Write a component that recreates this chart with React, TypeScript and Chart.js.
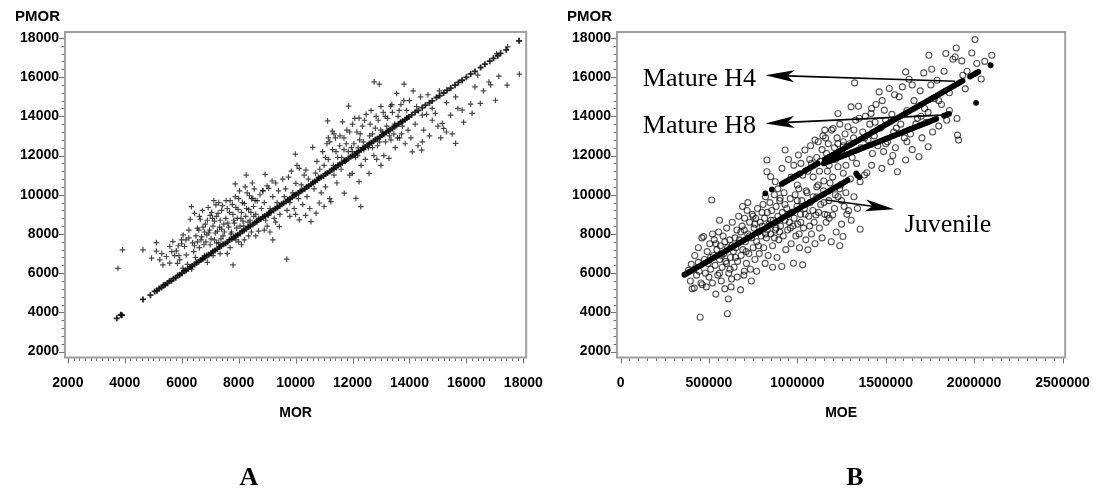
import React, { useEffect, useRef } from "react";
import { Chart, registerables } from "chart.js";
Chart.register(...registerables);

// ---------------- Panel A : PMOR vs MOR ----------------
const A_X_TICKS = [2000, 4000, 6000, 8000, 10000, 12000, 14000, 16000, 18000];
const Y_TICKS = [2000, 4000, 6000, 8000, 10000, 12000, 14000, 16000, 18000];
const B_X_TICKS = [0, 500000, 1000000, 1500000, 2000000, 2500000];

// predicted PMOR (on the diagonal)
const A_FITTED: [number, number][] = [
  [3720, 3700], [3860, 3880], [3900, 3860], [4640, 4660], [4900, 4880], [5050, 5070], [5130, 5110], [5210, 5220],
  [5290, 5270], [5360, 5380], [5420, 5410], [5500, 5490], [5570, 5590], [5640, 5620], [5710, 5720], [5790, 5770],
  [5860, 5880], [5930, 5920], [6010, 6000], [6080, 6100], [6150, 6140], [6230, 6210], [6300, 6320], [6370, 6360],
  [6450, 6440], [6520, 6540], [6590, 6580], [6660, 6670], [6740, 6730], [6810, 6800], [6880, 6900], [6950, 6940],
  [7030, 7020], [7100, 7110], [7170, 7160], [7250, 7230], [7320, 7340], [7390, 7380], [7460, 7470], [7540, 7520],
  [7610, 7600], [7680, 7700], [7760, 7750], [7830, 7820], [7900, 7910], [7970, 7960], [8050, 8030], [8120, 8140],
  [8190, 8180], [8270, 8260], [8340, 8350], [8410, 8400], [8490, 8480], [8560, 8570], [8630, 8620], [8700, 8710],
  [8780, 8760], [8850, 8860], [8920, 8910], [9000, 8990], [9070, 9080], [9140, 9130], [9220, 9200], [9290, 9300],
  [9360, 9350], [9440, 9430], [9510, 9520], [9580, 9570], [9660, 9650], [9730, 9740], [9800, 9790], [9880, 9870],
  [9950, 9960], [10020, 10010], [10100, 10090], [10170, 10180], [10240, 10230], [10320, 10300], [10390, 10400],
  [10460, 10450], [10540, 10530], [10610, 10620], [10680, 10670], [10760, 10750], [10830, 10840], [10900, 10890],
  [10980, 10960], [11050, 11060], [11120, 11110], [11200, 11190], [11270, 11280], [11340, 11330], [11420, 11400],
  [11490, 11500], [11560, 11550], [11640, 11630], [11710, 11720], [11780, 11770], [11860, 11850], [11930, 11940],
  [12000, 11990], [12080, 12070], [12150, 12160], [12220, 12210], [12300, 12280], [12370, 12380], [12440, 12430],
  [12520, 12510], [12590, 12600], [12660, 12650], [12740, 12730], [12810, 12820], [12880, 12870], [12960, 12950],
  [13030, 13040], [13100, 13090], [13180, 13170], [13250, 13260], [13320, 13310], [13400, 13380], [13470, 13480],
  [13540, 13530], [13620, 13610], [13690, 13700], [13760, 13750], [13840, 13830], [13910, 13920], [13980, 13970],
  [14080, 14070], [14200, 14210], [14310, 14300], [14450, 14440], [14560, 14570], [14700, 14690], [14800, 14790],
  [14950, 14960], [15060, 15050], [15200, 15190], [15320, 15330], [15450, 15440], [15600, 15590], [15720, 15730],
  [15850, 15840], [16000, 15990], [16150, 16160], [16300, 16290], [16500, 16490], [16650, 16660], [16820, 16810],
  [16950, 16960], [17100, 17090], [17200, 17210], [17400, 17390], [17850, 17850],
];

// observed PMOR
const A_OBSERVED: [number, number][] = [
  [3760, 6250], [3920, 7190],
  [4640, 7190], [4940, 6770], [5110, 7560], [5110, 7130], [5230, 6680], [5340, 6425], [5460, 6850], [5580, 6510],
  [5580, 7360], [5690, 7610], [5810, 7140], [5990, 7700], [6100, 7360], [5930, 6680], [6160, 6930], [6040, 6260],
  [6300, 8750], [6340, 9390], [6450, 9050], [6250, 7800], [6380, 7550], [6420, 7100], [6200, 6450], [6480, 6800],
  [6350, 6200], [5750, 6900], [5880, 7400], [6050, 7950], [6500, 7900], [6600, 8200],
  [5300, 7000], [5650, 7100], [5900, 6900], [6000, 7500], [6150, 7700], [6250, 8200], [6450, 7400], [5850, 6500],
  [6620, 7300], [6700, 7850], [6750, 8350], [6800, 6900], [6850, 7600], [6900, 8700], [6950, 8050], [7000, 7450],
  [7050, 9100], [7100, 8400], [7150, 7700], [7200, 9480], [7220, 8900], [7250, 8150], [7300, 7550], [7350, 8700],
  [7400, 9200], [7450, 7900], [7480, 8500], [6700, 6700], [6900, 6550], [7100, 6900], [7350, 7000], [6650, 8750],
  [7000, 8950], [7300, 9600], [6550, 7600], [6800, 8100], [7150, 8650], [7400, 8250],
  [6550, 8300], [6620, 8900], [6680, 7700], [6730, 9200], [6780, 7450], [6830, 8500], [6880, 7950], [6930, 9350],
  [6980, 8200], [7030, 7750], [7080, 8800], [7130, 9700], [7180, 8050], [7230, 7550], [7280, 9050], [7330, 8350],
  [7380, 7750], [7430, 9450], [7500, 8100], [7560, 9700], [7620, 8550], [7680, 9100], [7730, 8000], [7780, 9500],
  [7830, 8700], [7880, 9900], [7930, 8300], [7980, 9250], [8030, 10200], [8080, 8800], [8130, 9600], [8180, 8400],
  [8230, 10400], [8280, 9300], [8330, 8600], [8380, 9950], [8430, 9100], [8480, 10600], [8530, 8900], [8580, 9700],
  [7550, 8800], [7600, 9300], [7650, 8350], [7700, 9700], [7750, 8100], [7800, 9000], [7850, 8550], [7880, 10550],
  [7900, 9350], [7950, 8800], [8000, 9800], [8050, 8400], [8100, 9100], [8150, 8650], [8200, 9550], [8265, 11000],
  [8250, 8900], [8300, 10100], [8350, 9250], [8400, 8700], [8450, 9800], [8520, 9400], [8496, 9820], [7600, 7000],
  [7800, 6420], [7700, 7300], [8000, 7600], [8200, 7700], [8350, 7900], [8450, 8100], [7900, 7700], [8100, 7450],
  [8550, 10300], [8600, 9000], [8650, 9700], [8700, 8800], [8750, 10000], [8800, 9300], [8850, 10200], [8930, 11040],
  [8900, 9600], [8950, 8700], [9000, 10450], [9056, 10330], [9100, 9300], [9175, 10700], [9200, 9900], [9250, 8800],
  [9300, 10600], [9350, 9600], [9400, 10200], [9450, 9000], [9430, 8375], [9200, 7700], [8900, 8200], [8700, 8150],
  [9000, 8400], [9300, 8600], [9100, 8100], [8600, 7900], [9050, 8950], [8846, 10207],
  [9550, 10800], [9600, 9900], [9650, 10300], [9690, 6715], [9700, 9200], [9750, 10900], [9800, 9600], [9850, 11200],
  [9900, 10100], [9990, 12075], [9950, 9300], [10010, 10580], [10050, 11500], [10100, 9800], [10130, 11350],
  [10130, 8720], [10200, 10500], [10250, 9500], [10300, 11000], [10360, 11260], [10400, 9900], [10450, 10800],
  [10500, 9300], [9800, 8900], [10000, 9000], [10350, 8950],
  [10540, 8630], [10600, 12415], [10650, 10300], [10720, 9060], [10750, 11700], [10800, 10900], [10830, 9580],
  [10850, 11300], [10900, 10100], [10950, 12200], [11000, 11500], [11050, 10400], [11100, 12600], [11125, 13770],
  [11150, 11800], [11200, 9800], [11240, 9650], [11290, 13245], [11300, 12300], [11350, 11000], [11400, 12900],
  [11450, 10600], [11480, 11900], [10700, 11100], [11000, 9400], [11350, 13100], [11150, 12900],
  [11050, 11900], [11200, 12700], [11330, 11500], [11420, 12200], [11560, 13000], [11620, 11900], [11780, 12600],
  [11900, 13200], [11960, 12400], [12080, 13900], [12180, 12000], [12270, 13100], [12380, 12700], [12420, 13800],
  [12560, 12400], [12620, 13600], [12700, 13100], [12830, 14000], [12880, 12500], [12990, 13300], [13080, 14200],
  [13160, 12700], [13230, 13900], [13300, 13000], [13380, 14600], [13480, 13600], [13580, 12900], [13640, 14300],
  [13720, 13100], [13800, 14800],
  [11550, 12500], [11600, 11300], [11650, 13720], [11710, 10080], [11700, 12900], [11750, 11700], [11800, 13300],
  [11860, 14520], [11850, 12200], [11900, 11000], [11990, 11090], [12000, 13600], [12050, 12600], [12100, 11900],
  [12120, 9820], [12150, 13200], [12230, 13910], [12230, 10665], [12250, 12800], [12290, 9395], [12300, 11500],
  [12350, 13500], [12400, 12300], [12450, 11800], [12480, 14100], [11700, 12300], [12000, 12200], [12200, 12400],
  [12580, 11090], [12600, 13000], [12650, 14300], [12700, 12400], [12760, 15756], [12800, 13400], [12850, 11800],
  [12900, 13800], [12940, 15640], [12950, 12700], [13000, 14500], [13050, 13200], [13100, 12000], [13150, 14000],
  [13200, 13500], [13280, 11855], [13340, 14520], [13350, 12800], [13400, 14200], [13450, 13100], [13500, 12400],
  [13550, 15165], [12750, 12000], [13000, 11500],
  [13600, 14000], [13650, 12900], [13700, 14600], [13750, 13500], [13810, 15640], [13850, 12600], [13900, 14300],
  [13950, 13300], [14000, 14800], [14050, 12900], [14100, 12190], [14130, 15300], [14200, 13600], [14250, 14500],
  [14300, 12500], [14390, 14990], [14430, 12280], [14450, 14060], [14450, 12700], [14500, 13300],
  [14600, 14100], [14700, 13000], [14800, 13800], [14910, 14150], [15000, 13500], [15100, 12900], [15150, 13640],
  [15200, 13380], [15300, 14700], [15445, 14060], [15500, 13100], [15620, 14990], [15620, 12620], [15700, 14400],
  [15850, 14315], [14650, 15100], [14800, 14400], [15050, 15300], [15300, 13200], [15900, 13700],
  [16150, 14620], [16200, 14150], [16490, 14655], [16790, 15750], [16850, 15600], [17020, 14820], [17060, 17200],
  [17140, 16045], [17430, 15590], [17450, 17540], [17860, 16150], [16400, 16100], [16600, 15300], [16300, 15500],
];

// ---------------- Panel B : PMOR vs MOE ----------------
const B_OBSERVED: [number, number][] = [
  [385000, 6150], [395000, 5600], [400000, 6450], [405000, 5200], [417000, 5240], [420000, 6900], [430000, 5900],
  [440000, 7300], [445000, 6100], [450000, 3750], [455000, 5500], [462000, 5410], [470000, 7866], [475000, 6700],
  [480000, 6000], [485000, 5300], [490000, 7100], [495000, 6500], [500000, 5800], [440000, 6550], [460000, 7800],
  [505000, 7500], [510000, 6200], [516000, 9733], [520000, 5500], [525000, 6900], [530000, 7700], [535000, 6400],
  [539000, 4934], [545000, 7200], [550000, 5900], [555000, 8100], [560000, 6700], [565000, 7400], [570000, 5600],
  [575000, 6300], [580000, 7900], [585000, 7000], [590000, 5200], [595000, 6600], [600000, 8300], [604000, 3931],
  [605000, 7300], [610000, 4680], [612000, 6000], [618000, 7700], [622000, 6800], [628000, 5700], [632000, 8600],
  [638000, 7100], [642000, 6300], [648000, 7800], [520000, 8000], [560000, 8700], [590000, 7600], [625000, 5300],
  [652000, 7300], [658000, 8200], [662000, 6600], [668000, 8900], [672000, 7700], [679000, 5150], [682000, 6900],
  [688000, 8400], [692000, 7200], [698000, 5900], [702000, 8800], [706000, 7600], [712000, 6500], [716000, 9200],
  [720000, 8000], [726000, 7000], [730000, 8600], [735000, 6200], [740000, 7800], [745000, 9000], [750000, 7300],
  [755000, 8300], [760000, 6700], [765000, 8800], [770000, 7600], [775000, 9300], [780000, 8100], [785000, 7000],
  [790000, 8600], [795000, 7900], [660000, 5800], [700000, 6100], [740000, 5600], [770000, 6100], [720000, 9600],
  [690000, 9400],
  [510000, 6800], [540000, 7500], [570000, 6900], [600000, 6500], [630000, 7400], [650000, 6800], [680000, 8100],
  [710000, 7100], [730000, 7900], [760000, 8500], [780000, 7400], [800000, 9100], [820000, 8000], [850000, 8700],
  [870000, 7800], [900000, 8100], [930000, 9500], [950000, 9000], [975000, 8400], [1000000, 9700], [1020000, 8600],
  [1045000, 9000], [1070000, 8400], [1090000, 9900], [1120000, 9100], [1150000, 9600], [1180000, 8800],
  [1215000, 10000], [1250000, 9700], [1280000, 9000], [560000, 6000], [620000, 6200], [700000, 8200], [750000, 8900],
  [830000, 8200], [880000, 8300], [960000, 8300], [1010000, 8000],
  [802000, 8400], [806000, 9500], [810000, 7300], [815000, 8800], [820000, 9900], [825000, 7800], [830000, 9100],
  [835000, 6900], [840000, 8500], [845000, 9600], [850000, 8000], [855000, 9200], [860000, 7400], [865000, 8700],
  [870000, 10000], [875000, 8200], [880000, 9400], [885000, 6800], [890000, 8900], [895000, 7700], [900000, 9700],
  [905000, 8400], [912000, 6340], [915000, 9100], [920000, 7900], [925000, 10100], [930000, 8700], [935000, 7200],
  [940000, 9300], [945000, 8200], [818000, 6500], [860000, 6300], [890000, 10300],
  [955000, 8600], [960000, 9800], [965000, 7500], [970000, 9100], [978000, 6510], [982000, 8800], [988000, 10000],
  [992000, 7900], [998000, 9400], [1002000, 8500], [1008000, 10300], [1012000, 7300], [1018000, 9000],
  [1025000, 9700], [1030000, 6425], [1035000, 8300], [1040000, 9300], [1048000, 7700], [1055000, 10100],
  [1060000, 7190], [1065000, 8900], [1072000, 9600], [1080000, 8000], [1088000, 9200], [1095000, 8600],
  [1100000, 7500], [1105000, 8970], [1110000, 9900], [1118000, 10500], [1125000, 8300], [1132000, 9500],
  [1140000, 7800], [1148000, 10200], [1155000, 9000], [1163000, 8600], [1170000, 8970], [1178000, 9700],
  [1185000, 10600], [1192000, 7600], [1200000, 8970], [1210000, 9300], [1220000, 8100], [1230000, 9900],
  [1240000, 10300], [1250000, 8500], [1258000, 7870], [1265000, 9400], [1275000, 10100], [1290000, 9190],
  [1305000, 8700], [1320000, 9900], [1340000, 9300], [1355000, 8240], [1240000, 7400],
  // mature
  [828000, 11770], [828000, 11174], [849000, 10920], [875000, 10665], [903000, 9820], [913000, 11347],
  [931000, 12279], [950000, 11800], [965000, 10900], [980000, 11500], [1006000, 12024], [1020000, 11600],
  [1043000, 12279], [1060000, 11200], [1075000, 12500], [1090000, 10900], [1100000, 12788], [1118000, 12700],
  [1130000, 11700], [1145000, 13000], [1155000, 13296], [1165000, 12100], [1180000, 11500], [1193000, 13296],
  [1202000, 13381], [1210000, 12400], [1215000, 11800], [1225000, 12900], [1230000, 14147], [1230000, 11430],
  [1240000, 13600], [1250000, 12200], [1260000, 11100], [1270000, 13100], [1286000, 13465], [1295000, 12600],
  [1304000, 14483], [1310000, 11900], [1318000, 12900], [1324000, 15704], [1330000, 13800], [1346000, 14517],
  [1355000, 10665], [1360000, 12400], [1370000, 13200], [1380000, 11006], [1385000, 14000], [1393000, 11123],
  [1400000, 12800], [1410000, 13600], [1417000, 14147], [1425000, 12100], [1435000, 13000], [1445000, 14600],
  [1455000, 12500], [1463000, 15246], [1470000, 13400], [1478000, 11347], [1488000, 12200], [1492000, 14315],
  [1500000, 13800], [1510000, 12700], [1520000, 15419], [1529000, 11683], [1535000, 14100], [1545000, 13200],
  [1555000, 12400], [1566000, 11174], [1576000, 14992], [1585000, 13600], [1594000, 15500], [1605000, 12900],
  [1613000, 11770], [1613000, 16264], [1620000, 14300], [1632000, 15893], [1640000, 13100], [1650000, 12300],
  [1660000, 14800], [1670000, 13600], [1688000, 11940], [1695000, 15300], [1705000, 12900], [1715000, 16213],
  [1720000, 14400], [1730000, 13700], [1740000, 12448], [1744000, 17114], [1755000, 15600], [1765000, 13200],
  [1775000, 14900], [1790000, 15842], [1800000, 13500], [1815000, 14600], [1830000, 16300], [1845000, 13800],
  [1860000, 15200], [1880000, 16910], [1893000, 17028], [1899000, 17486], [1903000, 13892], [1906000, 13042],
  [1912000, 12787], [1930000, 16825], [1936000, 16096], [1950000, 15400], [1987000, 17230], [2005000, 17913],
  [2015000, 16690], [2040000, 15900], [2100000, 17114],
  [1000000, 10500], [1030000, 11000], [1050000, 10200], [1070000, 11800], [1110000, 10400], [1125000, 11200],
  [1150000, 10700], [1175000, 12600], [1200000, 10900], [1245000, 10500], [1275000, 11500], [1300000, 10800],
  [1335000, 11600], [1160000, 12900], [1260000, 12700], [1420000, 11500], [1540000, 12000], [1700000, 14000],
  [1080000, 11600], [1140000, 12300], [1200000, 12000], [1260000, 12500], [1320000, 13300], [1380000, 12900],
  [1440000, 13700], [1500000, 12600], [1560000, 13400], [1620000, 12700], [1680000, 13900], [1740000, 14200],
  [1800000, 14800], [1860000, 14300], [1420000, 14400], [1480000, 14800], [1550000, 15100], [1650000, 15600],
  [1760000, 16400], [1840000, 17200], [1960000, 16300], [2060000, 16800], [1350000, 13900], [1230000, 12600],
  [1170000, 11200], [1110000, 11900],
];

// predicted PMOR, juvenile wood
const B_JUVENILE: [number, number][] = [
  [361000, 5920], [372000, 5970], [384000, 6040], [396000, 6100], [408000, 6160], [420000, 6230], [432000, 6290],
  [444000, 6350], [456000, 6410], [468000, 6480], [480000, 6540], [492000, 6600], [504000, 6660], [516000, 6730],
  [528000, 6790], [540000, 6850], [552000, 6910], [564000, 6980], [576000, 7040], [588000, 7100], [600000, 7160],
  [612000, 7230], [624000, 7290], [636000, 7350], [648000, 7420], [660000, 7480], [672000, 7540], [684000, 7600],
  [696000, 7670], [708000, 7730], [720000, 7790], [732000, 7850], [744000, 7920], [756000, 7980], [768000, 8040],
  [780000, 8100], [792000, 8170], [804000, 8230], [816000, 8290], [828000, 8350], [840000, 8420], [852000, 8480],
  [864000, 8540], [876000, 8600], [888000, 8670], [900000, 8730], [912000, 8790], [924000, 8860], [936000, 8920],
  [948000, 8980], [960000, 9040], [972000, 9110], [984000, 9170], [996000, 9230], [1008000, 9290], [1020000, 9360],
  [1032000, 9420], [1044000, 9480], [1056000, 9540], [1068000, 9610], [1080000, 9670], [1092000, 9730],
  [1104000, 9790], [1116000, 9860], [1128000, 9920], [1140000, 9980], [1152000, 10040], [1164000, 10110],
  [1176000, 10170], [1188000, 10230], [1200000, 10300], [1212000, 10360], [1224000, 10420], [1236000, 10480],
  [1248000, 10550], [1260000, 10610], [1272000, 10670], [1284000, 10740],
];

// predicted PMOR, mature wood at height 4
const B_MATURE_H4: [number, number][] = [
  [819000, 10070], [856000, 10270], [912000, 10552], [924000, 10614], [936000, 10675], [948000, 10737],
  [960000, 10799], [972000, 10860], [984000, 10922], [996000, 10984], [1008000, 11045], [1020000, 11107],
  [1043000, 11225], [1055000, 11287], [1067000, 11349], [1079000, 11410], [1091000, 11472], [1103000, 11534],
  [1115000, 11595], [1155000, 11801], [1167000, 11863], [1179000, 11924], [1191000, 11986], [1203000, 12048],
  [1215000, 12109], [1227000, 12171], [1239000, 12233], [1251000, 12294], [1263000, 12356], [1275000, 12418],
  [1287000, 12480], [1299000, 12541], [1311000, 12603], [1323000, 12665], [1335000, 12726], [1347000, 12788],
  [1359000, 12850], [1371000, 12911], [1383000, 12973], [1395000, 13035], [1407000, 13096], [1419000, 13158],
  [1431000, 13220], [1443000, 13281], [1455000, 13343], [1467000, 13405], [1479000, 13466], [1491000, 13528],
  [1503000, 13590], [1515000, 13651], [1527000, 13713], [1539000, 13775], [1551000, 13836], [1563000, 13898],
  [1575000, 13960], [1587000, 14022], [1599000, 14083], [1611000, 14145], [1623000, 14207], [1635000, 14268],
  [1647000, 14330], [1659000, 14392], [1671000, 14453], [1683000, 14515], [1695000, 14577], [1707000, 14638],
  [1719000, 14700], [1731000, 14762], [1743000, 14823], [1755000, 14885], [1767000, 14947], [1779000, 15008],
  [1791000, 15070], [1803000, 15132], [1815000, 15193], [1827000, 15255], [1839000, 15317], [1851000, 15378],
  [1863000, 15440], [1875000, 15502], [1887000, 15564], [1899000, 15625], [1911000, 15687], [1923000, 15749],
  [1935000, 15810], [1977000, 16026], [1989000, 16088], [2001000, 16149], [2013000, 16211], [2024000, 16268],
  [2093000, 16605], [2011000, 14686],
];

// predicted PMOR, mature wood at height 8
const B_MATURE_H8: [number, number][] = [
  [1150000, 11600], [1162000, 11643], [1174000, 11686], [1186000, 11729], [1198000, 11771], [1210000, 11814],
  [1222000, 11857], [1234000, 11900], [1246000, 11943], [1258000, 11986], [1270000, 12028], [1282000, 12071],
  [1294000, 12114], [1306000, 12157], [1318000, 12200], [1330000, 12243], [1342000, 12285], [1354000, 12328],
  [1366000, 12371], [1378000, 12414], [1390000, 12457], [1402000, 12500], [1414000, 12542], [1426000, 12585],
  [1438000, 12628], [1450000, 12671], [1462000, 12714], [1474000, 12757], [1486000, 12800], [1498000, 12842],
  [1510000, 12885], [1522000, 12928], [1534000, 12971], [1546000, 13014], [1558000, 13057], [1570000, 13099],
  [1582000, 13142], [1594000, 13185], [1606000, 13228], [1618000, 13271], [1630000, 13314], [1642000, 13356],
  [1654000, 13399], [1666000, 13442], [1678000, 13485], [1690000, 13528], [1702000, 13571], [1714000, 13613],
  [1726000, 13656], [1738000, 13699], [1750000, 13742], [1762000, 13785], [1774000, 13828], [1786000, 13870],
  [1830000, 14028], [1845000, 14082], [1858000, 14128],
  [1333000, 11090], [1340000, 10990], [1350000, 10900],
];

// call-outs on panel B: label, arrow tail, arrow tip, text anchor (data units)
const B_CALLOUTS = [
  { text: "Mature H4", from: [1893000, 15790], to: [819000, 16096], at: [125700, 15530] },
  { text: "Mature H8", from: [1818000, 14060], to: [819000, 13638], at: [125700, 13128] },
  { text: "Juvenile", from: [1164000, 9733], to: [1548000, 9260], at: [1607000, 8120] },
];

const SANS = '"Liberation Sans", Arial, Helvetica, sans-serif';
const SERIF = '"Liberation Serif", "Times New Roman", serif';

const toPts = (arr: [number, number][]) => arr.map(([x, y]) => ({ x, y }));

function drawArrow(ctx: CanvasRenderingContext2D, x1: number, y1: number, x2: number, y2: number) {
  const ang = Math.atan2(y2 - y1, x2 - x1);
  const L = 29, W = 6, N = 22;
  const c = Math.cos(ang), s = Math.sin(ang);
  ctx.beginPath();
  ctx.moveTo(x1, y1);
  ctx.lineTo(x2 - c * N, y2 - s * N);
  ctx.stroke();
  const bx = x2 - c * L, by = y2 - s * L;
  ctx.beginPath();
  ctx.moveTo(x2, y2);
  ctx.lineTo(bx - s * W, by + c * W);
  ctx.lineTo(x2 - c * N, y2 - s * N);
  ctx.lineTo(bx + s * W, by - c * W);
  ctx.closePath();
  ctx.fill();
}

function makeDecor(cfg: { xMinor: number; xMajor: number; yMinor: number; yMajor: number; xTitle: string; callouts?: typeof B_CALLOUTS }) {
  return {
    id: "decor",
    beforeDatasetsDraw(chart: any) {
      const { ctx, chartArea: a } = chart;
      const xs = chart.scales.x, ys = chart.scales.y;
      ctx.save();
      ctx.strokeStyle = "#6f6f6f";
      ctx.lineWidth = 1;
      ctx.beginPath();
      for (let v = Math.ceil(xs.min / cfg.xMinor) * cfg.xMinor; v <= xs.max; v += cfg.xMinor) {
        const px = Math.round(xs.getPixelForValue(v)) + 0.5;
        const major = Math.abs(v / cfg.xMajor - Math.round(v / cfg.xMajor)) < 1e-6;
        ctx.moveTo(px, a.bottom);
        ctx.lineTo(px, a.bottom + (major ? 6 : 3.5));
      }
      for (let v = Math.ceil(ys.min / cfg.yMinor) * cfg.yMinor; v <= ys.max; v += cfg.yMinor) {
        const py = Math.round(ys.getPixelForValue(v)) + 0.5;
        const major = Math.abs(v / cfg.yMajor - Math.round(v / cfg.yMajor)) < 1e-6;
        ctx.moveTo(a.left, py);
        ctx.lineTo(a.left - (major ? 6 : 3.5), py);
      }
      ctx.stroke();
      ctx.strokeStyle = "#a0a0a0";
      ctx.lineWidth = 2;
      ctx.strokeRect(a.left, a.top, a.right - a.left, a.bottom - a.top);
      // titles
      ctx.fillStyle = "#000";
      ctx.font = `bold 15px ${SANS}`;
      ctx.textAlign = "right";
      ctx.textBaseline = "alphabetic";
      ctx.fillText("PMOR", a.left - 5, a.top - 11);
      ctx.font = `bold 14px ${SANS}`;
      ctx.textAlign = "center";
      ctx.textBaseline = "middle";
      ctx.fillText(cfg.xTitle, (a.left + a.right) / 2, a.bottom + 56);
      ctx.restore();
    },
    afterDatasetsDraw(chart: any) {
      if (!cfg.callouts) return;
      const { ctx } = chart;
      const xs = chart.scales.x, ys = chart.scales.y;
      ctx.save();
      ctx.strokeStyle = "#000";
      ctx.fillStyle = "#000";
      ctx.lineWidth = 1.6;
      for (const c of cfg.callouts) {
        drawArrow(ctx, xs.getPixelForValue(c.from[0]), ys.getPixelForValue(c.from[1]),
          xs.getPixelForValue(c.to[0]), ys.getPixelForValue(c.to[1]));
        ctx.font = `26px ${SERIF}`;
        ctx.textAlign = "left";
        ctx.textBaseline = "alphabetic";
        ctx.fillText(c.text, xs.getPixelForValue(c.at[0]), ys.getPixelForValue(c.at[1]));
      }
      ctx.restore();
    },
  };
}

function axis(min: number, max: number, ticks: number[], fit: (s: any) => void, padding: number) {
  return {
    type: "linear",
    min,
    max,
    afterBuildTicks: (s: any) => { s.ticks = ticks.map((value) => ({ value })); },
    afterFit: fit,
    grid: { display: false, drawTicks: false },
    border: { display: false },
    ticks: {
      padding,
      autoSkip: false,
      maxRotation: 0,
      color: "#000",
      font: { family: SANS, size: 14, weight: "bold" },
      callback: (v: any) => String(v),
    },
  };
}

function ChartCanvas({ config, left, width }: { config: any; left: number; width: number }) {
  const ref = useRef<HTMLCanvasElement>(null);
  useEffect(() => {
    const chart = new Chart(ref.current as HTMLCanvasElement, config);
    return () => chart.destroy();
  }, []);
  return (
    <canvas ref={ref} width={width} height={502}
      style={{ position: "absolute", left, top: 0, width, height: 502 }} />
  );
}

const crossStyle = {
  pointStyle: "cross",
  pointRadius: 2.8,
  pointBorderWidth: 1.2,
  pointBorderColor: "rgba(0,0,0,0.72)",
  pointBackgroundColor: "rgba(0,0,0,0.72)",
  showLine: false,
};

const configA = {
  type: "scatter",
  data: {
    datasets: [
      { data: toPts(A_FITTED), ...crossStyle, pointRadius: 3, pointBorderWidth: 1.8, pointBorderColor: "rgba(0,0,0,0.85)" },
      { data: toPts(A_OBSERVED), ...crossStyle },
    ],
  },
  options: {
    responsive: false,
    animation: false,
    events: [],
    layout: { padding: { left: 0, top: 32, right: 32.5, bottom: 0 } },
    plugins: { legend: { display: false }, tooltip: { enabled: false } },
    scales: {
      x: axis(1900, 18100, A_X_TICKS, (s: any) => { s.height = 144.5; }, 17),
      y: axis(1700, 18300, Y_TICKS, (s: any) => { s.width = 65; }, 6),
    },
  },
  plugins: [makeDecor({ xMinor: 200, xMajor: 2000, yMinor: 400, yMajor: 2000, xTitle: "MOR" })],
};

const dotStyle = {
  pointStyle: "circle",
  pointRadius: 2.9,
  pointBorderWidth: 0,
  pointBackgroundColor: "#000",
  pointBorderColor: "#000",
  showLine: false,
};

const configB = {
  type: "scatter",
  data: {
    datasets: [
      { data: toPts(B_JUVENILE), ...dotStyle },
      { data: toPts(B_MATURE_H4), ...dotStyle },
      { data: toPts(B_MATURE_H8), ...dotStyle },
      {
        data: toPts(B_OBSERVED),
        pointStyle: "circle",
        pointRadius: 3,
        pointBorderWidth: 1.1,
        pointBorderColor: "rgba(0,0,0,0.68)",
        pointBackgroundColor: "rgba(0,0,0,0)",
        showLine: false,
      },
    ],
  },
  options: {
    responsive: false,
    animation: false,
    events: [],
    layout: { padding: { left: 0, top: 32, right: 38, bottom: 0 } },
    plugins: { legend: { display: false }, tooltip: { enabled: false } },
    scales: {
      x: axis(-20000, 2515000, B_X_TICKS, (s: any) => { s.height = 144.5; }, 17),
      y: axis(1700, 18300, Y_TICKS, (s: any) => { s.width = 64; }, 6),
    },
  },
  plugins: [makeDecor({ xMinor: 50000, xMajor: 500000, yMinor: 400, yMajor: 2000, xTitle: "MOE", callouts: B_CALLOUTS })],
};

const panelLabel: React.CSSProperties = {
  position: "absolute",
  top: 477,
  transform: "translate(-50%, -50%)",
  font: `bold 26px ${SERIF}`,
  color: "#000",
  lineHeight: 1,
};

export default function App() {
  return (
    <div style={{ position: "absolute", left: 0, top: 0, width: 1107, height: 502, background: "#fff", overflow: "hidden" }}>
      <ChartCanvas config={configA} left={0} width={560} />
      <ChartCanvas config={configB} left={553} width={554} />
      <div style={{ ...panelLabel, left: 249 }}>A</div>
      <div style={{ ...panelLabel, left: 855 }}>B</div>
    </div>
  );
}
